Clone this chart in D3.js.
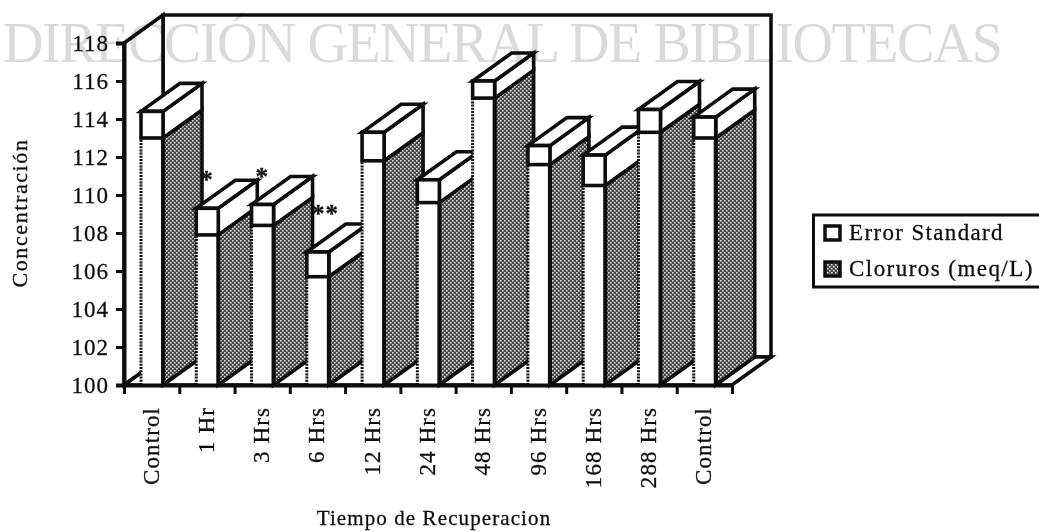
<!DOCTYPE html>
<html><head><meta charset="utf-8">
<script src="https://cdn.jsdelivr.net/npm/d3@7"></script>
<style>html,body{margin:0;padding:0;background:#fff;overflow:hidden}svg{display:block}text{font-family:"Liberation Serif",serif;fill:#111}.k text,text.k{stroke:#111;stroke-width:.3px}</style>
</head><body><div id="chart"></div>
<script>
const categories=["Control","1 Hr","3 Hrs","6 Hrs","12 Hrs","24 Hrs","48 Hrs","96 Hrs","168 Hrs","288 Hrs","Control"];
const cloruros=[113,107.9,108.4,105.7,111.8,109.6,115.1,111.6,110.5,113.3,113];
const totals=[114.4,109.3,109.5,107,113.3,110.8,116,112.6,112.1,114.5,114.1];
const yTicks=[100,102,104,106,108,110,112,114,116,118];
const marks=[["*",1],["*",2],["**",3]];
const legendLabels=["Error Standard","Cloruros (meq/L)"];
const W=1039,H=532;
const svg=d3.select("#chart").append("svg").attr("width",W).attr("height",H);
const defs=svg.append("defs");
const pat=defs.append("pattern").attr("id","st").attr("width",4).attr("height",4).attr("patternUnits","userSpaceOnUse");
pat.append("rect").attr("width",4).attr("height",4).attr("fill","#454545");
pat.append("rect").attr("x",0).attr("y",0).attr("width",1.6).attr("height",1.6).attr("fill","#dcdcdc");
pat.append("rect").attr("x",2).attr("y",2).attr("width",1.6).attr("height",1.6).attr("fill","#dcdcdc");
defs.append("filter").attr("id","scan").append("feGaussianBlur").attr("stdDeviation",0.45);
const g=svg.append("g").attr("filter","url(#scan)");
const y=d3.scaleLinear().domain([100,118]).range([385,43]);
const x=d3.scaleBand().domain(d3.range(categories.length)).range([124,732]);
const dx=39,dy=-28,barInset=17,barW=22,sw=3.6;
const poly=(p)=>d3.line()(p)+"Z";
const black="#0c0c0c";
// walls
g.append("path").attr("fill","#fff").attr("stroke",black).attr("stroke-width",sw)
 .attr("d",poly([[x.range()[0]+dx,y(118)+dy],[x.range()[1]+dx,y(118)+dy],[x.range()[1]+dx,y(100)+dy],[x.range()[0]+dx,y(100)+dy]]));
g.append("path").attr("fill","#fff").attr("stroke",black).attr("stroke-width",sw)
 .attr("d",poly([[x.range()[0],y(118)],[x.range()[0]+dx,y(118)+dy],[x.range()[0]+dx,y(100)+dy],[x.range()[0],y(100)]]));
// floor
g.append("path").attr("fill","#fff").attr("stroke",black).attr("stroke-width",sw)
 .attr("d",poly([[x.range()[0],y(100)],[x.range()[0]+dx,y(100)+dy],[x.range()[1]+dx,y(100)+dy],[x.range()[1],y(100)]]));
// bars
categories.forEach((c,i)=>{
  const l=x(i)+barInset,r=l+barW,b=y(100),s=y(cloruros[i]),t=y(totals[i]);
  const bg=g.append("g");
  bg.append("path").attr("fill","url(#st)").attr("stroke",black).attr("stroke-width",sw)
    .attr("d",poly([[r,b],[r+dx,b+dy],[r+dx,s+dy],[r,s]]));
  bg.append("path").attr("fill","#fff").attr("stroke",black).attr("stroke-width",sw)
    .attr("d",poly([[r,s],[r+dx,s+dy],[r+dx,t+dy],[r,t]]));
  bg.append("path").attr("fill","#fff").attr("stroke",black).attr("stroke-width",sw)
    .attr("d",poly([[l,t],[r,t],[r+dx,t+dy],[l+dx,t+dy]]));
  bg.append("rect").attr("x",l).attr("y",s).attr("width",barW).attr("height",b-s).attr("fill","#fff");
  bg.append("path").attr("fill","none").attr("stroke",black).attr("stroke-width",3).attr("stroke-dasharray","2 1.2")
    .attr("d",d3.line()([[l,b],[l,s]]));
  bg.append("path").attr("fill","none").attr("stroke",black).attr("stroke-width",4)
    .attr("d",d3.line()([[r,b],[r,s]]));
  bg.append("rect").attr("x",l).attr("y",t).attr("width",barW).attr("height",s-t).attr("fill","#fff").attr("stroke",black).attr("stroke-width",sw);
});
// axes
const yAxis=d3.axisLeft(y).tickValues(yTicks).tickSize(8).tickPadding(7).tickFormat(d3.format("d"));
const ga=g.append("g").attr("class","k").attr("transform",`translate(${x.range()[0]},0)`).call(yAxis);
ga.selectAll("line").attr("stroke",black).attr("stroke-width",3);
ga.select(".domain").attr("stroke",black).attr("stroke-width",4);
ga.selectAll("text").attr("font-size",23).attr("letter-spacing",1).style("font-family",'"Liberation Serif",serif').attr("fill","#111");
const xl=d3.scaleLinear().domain([0,categories.length]).range(x.range());
const xAxis=d3.axisBottom(xl).tickValues(d3.range(categories.length+1)).tickSize(9).tickSizeOuter(0).tickFormat("");
const gb=g.append("g").attr("transform",`translate(0,${y(100)})`).call(xAxis);
gb.selectAll("line").attr("stroke",black).attr("stroke-width",3);
gb.select(".domain").attr("stroke",black).attr("stroke-width",4);
// category labels
g.append("g").attr("class","k").selectAll("text").data(categories).join("text")
 .attr("transform",(d,i)=>`translate(${x(i)+x.bandwidth()/2+7},407) rotate(-90)`)
 .attr("text-anchor","end").attr("font-size",23).attr("letter-spacing",1.1).text(d=>d);
// significance marks
g.append("g").attr("class","k").selectAll("text").data(marks).join("text")
 .attr("x",d=>x(d[1])+x.bandwidth()/2+(d[0]==="**"?8:0)).attr("y",d=>y(totals[d[1]])+(d[0]==="**"?-30:-20))
 .attr("text-anchor","middle").attr("font-size",25).attr("font-weight","bold").attr("letter-spacing",1).text(d=>d[0]);
// axis titles
g.append("text").attr("class","k").attr("transform","translate(27,213) rotate(-90)").attr("text-anchor","middle")
 .attr("font-size",22).attr("letter-spacing",1.6).text("Concentración");
g.append("text").attr("class","k").attr("x",434).attr("y",525).attr("text-anchor","middle").attr("font-size",21).attr("letter-spacing",1.1).text("Tiempo de Recuperacion");
// legend
g.append("rect").attr("x",813.5).attr("y",215).attr("width",240).attr("height",72).attr("fill","#fff").attr("stroke",black).attr("stroke-width",3);
const lg=g.append("g").attr("class","k").selectAll("g").data(legendLabels).join("g").attr("transform",(d,i)=>`translate(825,${226+i*36})`);
lg.append("rect").attr("width",15).attr("height",14).attr("stroke",black).attr("stroke-width",3.5).attr("fill",(d,i)=>i?"url(#st)":"#fff");
lg.append("text").attr("x",24).attr("y",14).attr("font-size",23).attr("letter-spacing",(d,i)=>i?1.45:1.35).text(d=>d);
// watermark
svg.append("text").attr("x",3).attr("y",62).attr("font-size",56).attr("textLength",1000).attr("lengthAdjust","spacing")
 .style("fill","#dadada").style("mix-blend-mode","multiply").text("DIRECCIÓN GENERAL DE BIBLIOTECAS");
</script></body></html>
